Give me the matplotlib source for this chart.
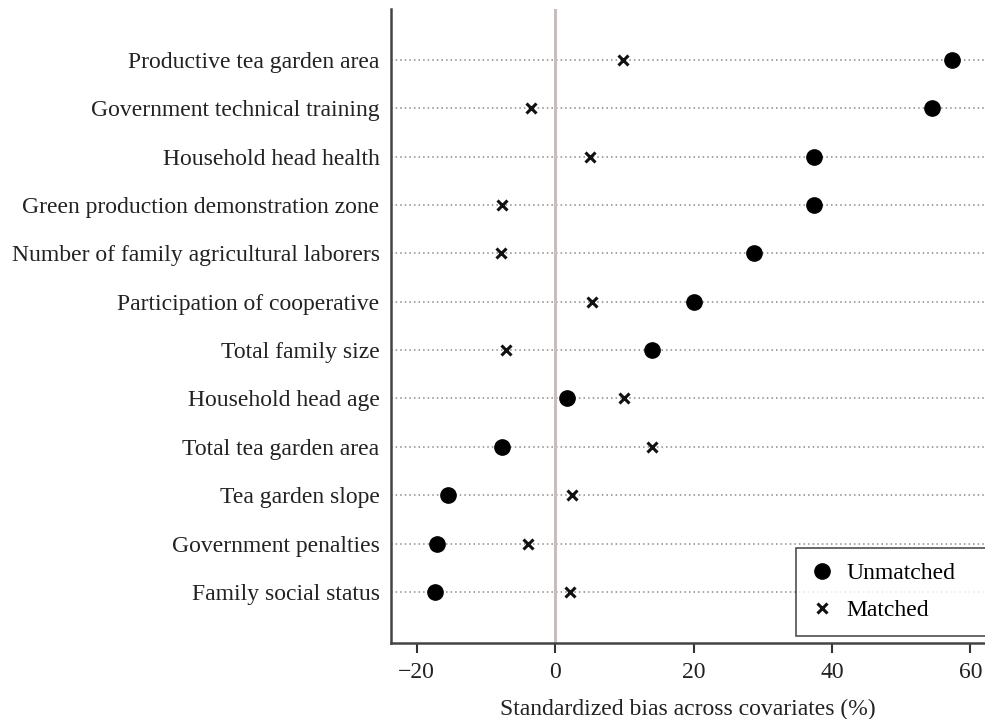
import matplotlib.pyplot as plt

plt.rcParams['font.family'] = ['Liberation Serif', 'DejaVu Serif']

covariates = [
    "Productive tea garden area",
    "Government technical training",
    "Household head health",
    "Green production demonstration zone",
    "Number of family agricultural laborers",
    "Participation of cooperative",
    "Total family size",
    "Household head age",
    "Total tea garden area",
    "Tea garden slope",
    "Government penalties",
    "Family social status",
]
unmatched = [57.4, 54.4, 37.4, 37.4, 28.8, 20.1, 14.0, 1.7, -7.7, -15.5, -17.0, -17.3]
matched = [9.8, -3.5, 5.1, -7.7, -7.85, 5.4, -7.1, 10.0, 14.0, 2.5, -3.9, 2.1]
xticks = [-20, 0, 20, 40, 60]

n = len(covariates)
ypos = list(range(n, 0, -1))

fig = plt.figure(figsize=(9.85, 7.19), dpi=100)
ax = fig.add_axes([390.7 / 985, 1 - 642.7 / 719, 1 - 390.7 / 985, (642.7 - 9) / 719])

# dotted guide lines for each covariate
for y in ypos:
    ax.axhline(y, color='#8a8a8a', linestyle=(0, (1, 2)), linewidth=1.1, zorder=1)
ax.axvline(0, color='#c9bcbc', linewidth=2.2, zorder=1)

ax.plot(unmatched, ypos, linestyle='none', marker='o', markersize=11,
        color='black', label='Unmatched', zorder=3)
ax.plot(matched, ypos, linestyle='none', marker='x', markersize=6.5,
        markeredgewidth=2.2, color='#111111', label='Matched', zorder=3)

ax.set_xlim(-23.75, 62.1)
ax.set_ylim(-0.05, 13.05)
ax.set_yticks(ypos)
ax.set_yticklabels(covariates)
ax.set_xticks(xticks)
ax.set_xticklabels(['\u221220', '0', '20', '40', '60'])
ax.tick_params(axis='y', length=0, pad=8, labelsize=17, labelcolor='#222222')
ax.tick_params(axis='x', length=7, width=1.5, pad=7, labelsize=17,
               labelcolor='#222222', color='#333333')
ax.set_xlabel("Standardized bias across covariates (%)", fontsize=17,
              color='#222222', labelpad=11)

for side in ['top', 'right']:
    ax.spines[side].set_visible(False)
for side in ['left', 'bottom']:
    ax.spines[side].set_color('#444444')
    ax.spines[side].set_linewidth(1.8)

leg = ax.legend(loc='upper left', bbox_to_anchor=(0.682, 0.1494, 0.34, 0.0),
                mode='expand', fontsize=17,
                frameon=True, fancybox=False, edgecolor='#222222',
                borderaxespad=0, handletextpad=0.5, labelspacing=0.65,
                borderpad=0.62, handlelength=1.0)
leg.get_frame().set_linewidth(1.2)

plt.savefig("out.png", dpi=100)
